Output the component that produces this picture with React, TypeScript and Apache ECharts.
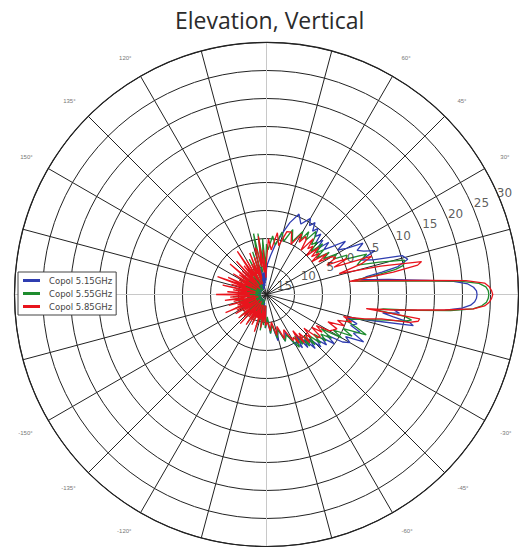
import React, { useEffect, useRef } from 'react';
import * as echarts from 'echarts';

// sampling angles (degrees)
const angles = [
  -180, -178, -176, -174, -172, -170, -168, -166, -164, -162, -160, -158, -156, -154, -152, -150,
  -148, -146, -144, -142, -140, -138, -136, -134, -132, -130, -128, -126, -124, -122, -120, -118,
  -116, -114, -112, -110, -108, -106, -104, -102, -100, -98, -96, -94, -92,
  -88, -84, -80, -76, -72, -68, -64, -60,
  -58, -56, -54, -52, -50, -48, -46, -44, -42, -40, -38, -36, -34, -32, -30, -28, -26, -24, -22,
  -20, -18, -16, -14,
  -12, -11, -10, -9, -8, -7, -6, -5, -4, -3, -2, -1, 0, 1, 2, 3, 4, 5, 6, 7, 8, 9, 10, 11, 12,
  14, 16, 18, 20, 22, 24, 26, 28, 30, 32, 34, 36, 38, 40, 42, 44, 46, 48, 50, 52, 54, 56, 58,
  60, 64, 68, 72, 76, 80, 84, 88,
  90, 92, 94, 96, 98, 100, 102, 104, 106, 108, 110, 112, 114, 116, 118, 120, 122, 124, 126, 128,
  130, 132, 134, 136, 138, 140, 142, 144, 146, 148, 150, 152, 154, 156, 158, 160, 162, 164, 166,
  168, 170, 172, 174, 176, 178, 180,
];

// gain in dB at each angle
const copol515 = [
  -12, -14, -12.5, -13.5, -11.5, -14, -12.5, -13, -11.5, -14, -12, -13.5, -11, -14, -12.5, -13,
  -11.5, -14, -12, -13.5, -11, -14, -12.5, -13, -11.5, -14, -12, -13.5, -11, -14, -12.5, -13,
  -11.5, -14, -12, -13.5, -10.5, -13, -12, -13.5, -9.5, -12.5, -11, -13, -9,
  -10.5, -8, -9.5, -6.5, -8.5, -6, -7.5, -4.5,
  -5, -3.5, -6, -3, -4.5, -2, -4, -1.5, -3, -1, -2.5, 0, -2, 1, 2.2, 1, 4.3, 2, 3,
  1, 2, 0, 4,
  11.8, 11, 8, 6, 9, 8, 12, 17, 20, 21.5, 22.2, 22.5, 22.6, 22.5, 22, 21, 18.5, 14, 10, 7, 4, 2, 3, 6, 9,
  11, 10.2, 5, 3, 5.9, 4, 3, 4.5, 1.5, 0, 2, -0.4, -2, -0.5, -3, -1, -2.5, -0.5, -1.5, 0, -1, 0.5, -0.5,
  0.7, -1, 0.5, -1.5, -4, -6, -8, -9.5,
  -10.5, -12.5, -9, -13, -11, -13.5, -10, -12.5, -12, -13.5, -11, -14, -12.5, -13, -11.5, -14,
  -12, -13.5, -11.5, -14, -12, -13, -11.5, -14, -12.5, -13.5, -11, -14, -12, -13, -11.5, -14,
  -12.5, -13.5, -11, -14, -12, -13, -11.5, -14, -12.5, -13.5, -11.5, -14, -12.5, -12,
];

const copol555 = [
  -11, -13.5, -9, -12.5, -11.5, -14, -10, -13, -9.5, -12, -10.5, -14, -9, -12.5, -10, -13.5,
  -9.5, -12, -11, -14, -9, -12.5, -10.5, -13.5, -9.5, -12, -11, -14, -9, -12.5, -10, -13.5,
  -9.5, -12, -11, -14, -9, -12.5, -10, -13, -8.5, -12, -9.5, -13, -9,
  -11, -8, -9.5, -7, -8.5, -6, -7, -5,
  -3.9, -6, -4, -5.5, -3, -5, -2.5, -4.5, -2, -4, -1.5, -3, -1, -3.5, 0.5, -1.5, 2, 0, 4.2,
  2, 0, 1, 3.5,
  7, 10, 11.3, 10, 5, 6, 12, 18, 22, 23.5, 24.3, 24.6, 24.7, 24.6, 24.2, 23, 19.5, 13, 8, 4.5, 2, 0.5, 5, 8.5, 10,
  10.4, 6, 2, 3, 4.3, 0.5, 1, -1.5, -0.5, -3, -1.5, -4, -2, -3.5, -1.5, -4, -2, -3, -1.5, -0.7, -3, -1.5, -3.5,
  -2, -4.5, -2.5, -5, -3.5, -6, -4.5, -7,
  -6, -10, -5, -9, -4, -11, -3.9, -8, -12, -7, -13, -9, -11, -8, -13.5, -10,
  -12, -9, -14, -10.5, -13, -9.5, -12, -11, -14, -10, -12.5, -9.5, -13.5, -10.5, -12, -9.5,
  -14, -10.5, -12.5, -10, -13.5, -11, -12, -10.5, -14, -9.5, -12.5, -10, -13.5, -11,
];

const copol585 = [
  -6, -12, -8.5, -13, -7.5, -11, -9, -13.5, -8, -12, -9.5, -13, -7, -11.5, -9, -13,
  -8.5, -12, -10, -13.5, -8.5, -11, -9.5, -13, -8, -12, -10, -13.5, -8.5, -11.5, -9.5, -13,
  -9, -12, -10.5, -13, -8, -11.5, -10.4, -13, -9, -12, -10, -13, -9.5,
  -10, -8.5, -10, -7.5, -9, -6.5, -8, -5.5,
  -6, -4.5, -7, -4, -6, -3.4, -5, -4, -6, -3, -2.8, -5, -3, -4.5, -2, -1.5, -1, -3, 0,
  -1.5, 1, -0.7, 3,
  6, 11, 12.5, 12.7, 3, 7.7, 11.5, 16.8, 22, 24, 24.8, 25.2, 25.4, 25.2, 24.8, 24, 20.7, 13.7, 8.9, 5.5, 2.9, 0, 8, 12.5, 13.3,
  6, -1.5, 3, 5, -2, 0.7, -3, -1, -1.5, -4, -2, -5, -3, -4.5, -2.5, -5, -3, -4, -2, -5, -3, -2.5, -4,
  -2.5, -5, -3, -3.2, -6, -3.8, -7, -5,
  -9, -12, -7, -11, -4.5, -10, -7, -6.4, -12, -8, -13, -7, -11, -9, -13, -8,
  -12, -5.7, -11, -8.5, -13, -7, -12, -9, -13.5, -6.5, -11, -9, -13, -8, -12, -9.5,
  -13, -7.5, -11, -5.7, -12, -8.5, -13, -7, -11.5, -9, -13, -8, -12, -6,
];

const seriesNames = ['Copol 5.15GHz', 'Copol 5.55GHz', 'Copol 5.85GHz'];
const radialTicks = [-15, -10, -5, 0, 5, 10, 15, 20, 25, 30];
const angleLabelTicks = [30, 45, 60, 120, 135, 150, -30, -45, -60, -120, -135, -150];

const COLORS = ['#2f3db0', '#1e8c2e', '#e8141c'];
const LABEL_ANGLE = 23;
const LABEL_SHIFT = [20, 18, 14, 8, 7, 9, 10, 10, 10, 7];

export default function App() {
  const ref = useRef<HTMLDivElement>(null);
  useEffect(() => {
    const chart = echarts.init(ref.current!, null, { renderer: 'svg' });
    const rad = (LABEL_ANGLE * Math.PI) / 180;
    const values = [copol515, copol555, copol585];
    const lineSeries = values.map((vals, k) => ({
      name: seriesNames[k],
      type: 'line',
      coordinateSystem: 'polar',
      symbol: 'none',
      data: angles.map((a, i) => [vals[i], a]),
      lineStyle: { color: COLORS[k], width: 1.3 },
      itemStyle: { color: COLORS[k] },
      z: 3 + k,
    }));
    const labelText = {
      fontFamily: 'DejaVu Sans',
      fontSize: 12,
      color: '#333333',
      textBorderWidth: 0,
      align: 'center',
      verticalAlign: 'middle',
    };
    chart.setOption({
      animation: false,
      title: {
        text: 'Elevation, Vertical',
        left: 170,
        top: 3,
        textStyle: { fontFamily: 'Open Sans', fontSize: 23, fontWeight: 500, color: '#2b2b2b' },
      },
      legend: {
        data: seriesNames,
        orient: 'vertical',
        left: 18,
        top: 272,
        icon: 'rect',
        itemWidth: 17,
        itemHeight: 3,
        itemGap: 4,
        padding: [4, 4, 4, 5],
        borderColor: '#444',
        borderWidth: 1,
        backgroundColor: '#fff',
        textStyle: { fontSize: 8.5, color: '#444', fontFamily: 'DejaVu Sans', padding: [0, 0, 0, 4] },
      },
      polar: { center: [266.5, 294.5], radius: 252 },
      angleAxis: {
        type: 'value',
        min: -180,
        max: 180,
        interval: 15,
        startAngle: 180,
        clockwise: false,
        axisLine: { lineStyle: { color: '#222', width: 1.2 } },
        axisTick: { show: false },
        axisLabel: {
          margin: 18,
          fontSize: 6,
          color: '#777',
          formatter: (v: number) => (angleLabelTicks.includes(v) ? v + '°' : ''),
        },
        splitLine: {
          show: true,
          lineStyle: { color: ['#c8c8c8', '#222', '#222', '#222', '#222', '#222'], width: 1 },
        },
      },
      radiusAxis: {
        type: 'value',
        min: -15,
        max: 30,
        interval: 5,
        axisLine: { show: false },
        axisTick: { show: false },
        axisLabel: { show: false },
        splitLine: { show: true, lineStyle: { color: '#222', width: 1 } },
      },
      series: [
        ...lineSeries,
        {
          type: 'scatter',
          coordinateSystem: 'polar',
          symbolSize: 1,
          silent: true,
          itemStyle: { color: 'rgba(0,0,0,0)' },
          z: 10,
          data: radialTicks.map((v, i) => ({
            value: [v, LABEL_ANGLE],
            label: {
              ...labelText,
              position: [0, 0],
              offset: [LABEL_SHIFT[i] * Math.cos(rad), -LABEL_SHIFT[i] * Math.sin(rad)],
            },
          })),
          label: {
            show: true,
            position: [0, 0],
            ...labelText,
            formatter: (p: any) => String(Math.abs(p.value[0])),
          },
        },
      ],
    });
    return () => chart.dispose();
  }, []);
  return <div ref={ref} style={{ position: 'absolute', left: 0, top: 0, width: 519, height: 554 }} />;
}
